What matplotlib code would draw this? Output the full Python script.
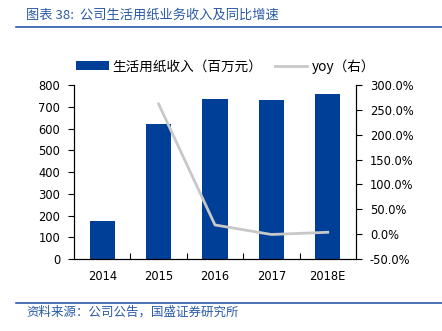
import matplotlib
matplotlib.use("Agg")
import matplotlib.pyplot as plt
from matplotlib.patches import Patch
from matplotlib.lines import Line2D
import numpy as np

plt.rcParams['font.family'] = ['Noto Sans CJK SC', 'DejaVu Sans']

years = ["2014", "2015", "2016", "2017", "2018E"]
revenue = [173, 620, 735, 730, 758]          # 生活用纸收入（百万元）
yoy = [None, 262.0, 18.5, -0.7, 3.8]         # 同比增速 (%)

title = "图表 38:  公司生活用纸业务收入及同比增速"
source = "资料来源：公司公告，国盛证券研究所"
bar_label = "生活用纸收入（百万元）"
line_label = "yoy（右）"

bar_color = "#003f98"
line_color = "#c8c8c8"
text_blue = "#2a5aa8"

fig = plt.figure(figsize=(4.42, 3.31), dpi=100)
ax = fig.add_axes([0.1674, 0.2175, 0.638, 0.5257])

x = np.arange(len(years))
ax.bar(x, revenue, width=0.45, color=bar_color, zorder=2)
ax.set_xlim(-0.5, len(years) - 0.5)
ax.set_ylim(0, 800)
ax.set_yticks(np.arange(0, 801, 100))
for lab in ax.get_yticklabels():
    lab.set_fontfamily('DejaVu Sans')
    lab.set_fontsize(8.3)
ax.tick_params(axis='y', direction='out', length=4, width=0.8, pad=6)

# category boundaries carry inward ticks; labels sit at the centres
ax.set_xticks(x[:-1] + 0.5)
ax.set_xticklabels([])
ax.tick_params(axis='x', which='major', direction='in', length=4, width=0.8)
ax.set_xticks(x, minor=True)
ax.set_xticklabels(years, minor=True, fontfamily='DejaVu Sans', fontsize=8.3)
ax.tick_params(axis='x', which='minor', length=0, pad=8)

ax.spines['top'].set_visible(False)
for s in ('left', 'bottom', 'right'):
    ax.spines[s].set_linewidth(0.8)

ax2 = ax.twinx()
yx = [i for i, v in enumerate(yoy) if v is not None]
yv = [v for v in yoy if v is not None]
ax2.plot(yx, yv, color=line_color, linewidth=2.0, zorder=3)
ax2.set_ylim(-50, 300)
ax2.set_yticks(np.arange(-50, 301, 50))
ax2.set_yticklabels([f"{v:.1f}%" for v in np.arange(-50, 301, 50)],
                    fontfamily='DejaVu Sans', fontsize=8.3)
ax2.tick_params(axis='y', direction='out', length=4, width=0.8, pad=6)
ax2.spines['top'].set_visible(False)
for s in ('left', 'bottom', 'right'):
    ax2.spines[s].set_linewidth(0.8)

handles = [Patch(facecolor=bar_color, edgecolor='none'),
           Line2D([0], [0], color=line_color, linewidth=2.0)]
fig.legend(handles, [bar_label, line_label], loc='center',
           bbox_to_anchor=(0.51, 0.80), ncol=2, frameon=False,
           fontsize=9.8, handlelength=2.4, handleheight=0.65,
           handletextpad=0.3, columnspacing=0.9)

fig.text(0.059, 0.955, title, color=text_blue, fontsize=9.5,
         ha='left', va='center', style='italic')
fig.add_artist(Line2D([0.036, 1.0], [0.918, 0.918], color=text_blue,
                      linewidth=1.2, transform=fig.transFigure))
fig.add_artist(Line2D([0.036, 1.0], [0.0836, 0.0836], color=text_blue,
                      linewidth=1.2, transform=fig.transFigure))
fig.text(0.059, 0.057, source, color=text_blue, fontsize=9,
         ha='left', va='center', style='italic')

fig.savefig("out.png", dpi=100)
